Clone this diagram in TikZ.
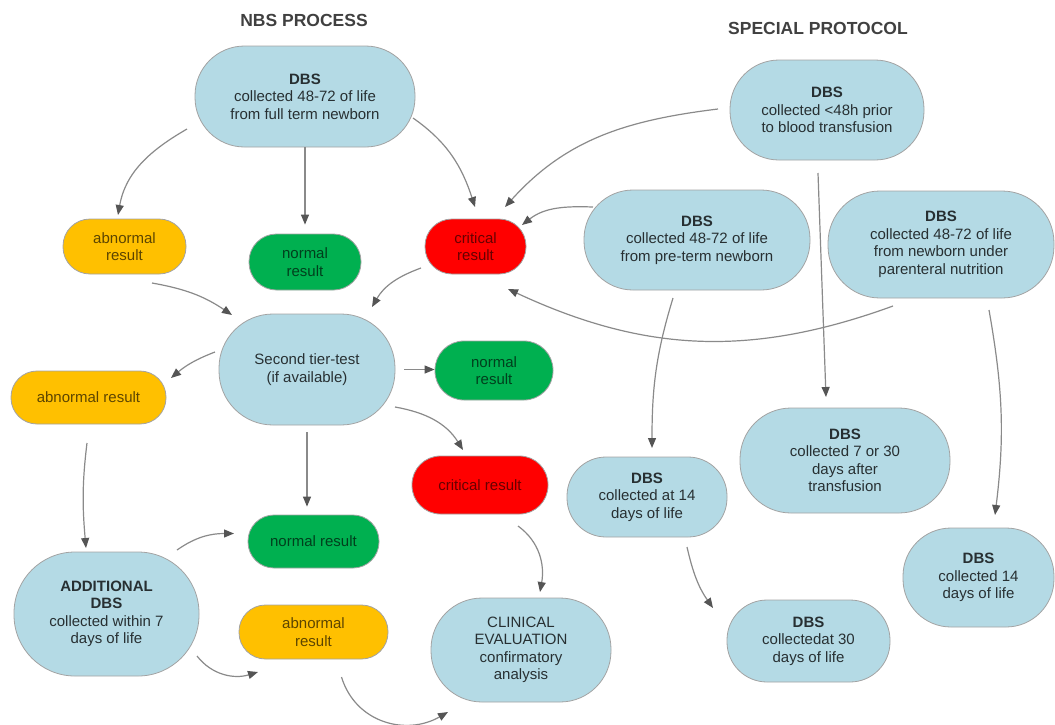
\documentclass[tikz,border=0pt]{standalone}
\usepackage{fontspec}
\setmainfont{Liberation Sans}
\usetikzlibrary{arrows.meta,calc}
\definecolor{dbsblue}{HTML}{B4DAE5}
\definecolor{resorange}{HTML}{FFC000}
\definecolor{resgreen}{HTML}{00B050}
\definecolor{resred}{HTML}{FF0000}
\definecolor{boxline}{HTML}{A3A3A3}
\definecolor{linegray}{HTML}{8A8A8A}
\definecolor{tipgray}{HTML}{555555}
\definecolor{titlegray}{HTML}{404040}
\begin{document}
\begin{tikzpicture}[x=1pt,y=1pt,
  pill/.style args={#1/#2/#3}{minimum width=#1pt,minimum height=#2pt,rounded corners=#3pt},
  basebox/.style={draw=boxline,line width=0.8pt,align=center,inner sep=0pt,
    font=\fontsize{15}{17.5}\selectfont},
  bluebox/.style={basebox,fill=dbsblue,text=black,text opacity=0.78},
  orangebox/.style={basebox,fill=resorange,text=black,text opacity=0.64},
  greenbox/.style={basebox,fill=resgreen,text=black,text opacity=0.64},
  redbox/.style={basebox,fill=resred,text=black,text opacity=0.6},
  titletext/.style={text=titlegray,font=\fontsize{17.5}{20}\selectfont\bfseries},
  arr/.style={draw=linegray,line width=1.2pt,
    -{Triangle[length=10pt,width=8pt,color=tipgray]}}
]
\useasboundingbox (0,0) rectangle (1055,-724);

% titles
\node[titletext] (t1) at (304,-20) {NBS PROCESS};
\node[titletext] (t2) at (818,-28.5) {SPECIAL PROTOCOL};

% NBS process
\node[bluebox,pill=220/101/49.5] (dbs1) at (305,-96.5) {\textbf{DBS}\\collected 48-72 of life\\from full term newborn};
\node[orangebox,pill=123/55/27] (abn1) at (124.5,-246.5) {abnormal\\result};
\node[greenbox,pill=112/56/27.5] (nor1) at (305,-262) {normal\\result};
\node[redbox,pill=101/55/27] (crit1) at (475.5,-246.5) {critical\\result};
\node[bluebox,pill=176/111/54] (tier) at (307,-369.5) {Second tier-test\\(if available)};
\node[orangebox,pill=155/53/26] (abn2) at (88.5,-397.5) {abnormal result};
\node[greenbox,pill=118/59/29] (nor2) at (494,-370.5) {normal\\result};
\node[redbox,pill=136/58/28.5] (crit2) at (480,-485) {critical result};
\node[greenbox,pill=131/53/26] (nor3) at (313.5,-541.5) {normal result};
\node[bluebox,pill=185/124/61] (add) at (106.5,-614) {\textbf{ADDITIONAL}\\\textbf{DBS}\\collected within 7\\days of life};
\node[orangebox,pill=149/54/26.5] (abn3) at (313.5,-632) {abnormal\\result};
\node[bluebox,pill=180/104/51] (clin) at (521,-650) {CLINICAL\\EVALUATION\\confirmatory\\analysis};

% special protocol
\node[bluebox,pill=194/100/49] (s48) at (827,-110) {\textbf{DBS}\\collected <48h prior\\to blood transfusion};
\node[bluebox,pill=226/100/49] (pre) at (697,-240) {\textbf{DBS}\\collected 48-72 of life\\from pre-term newborn};
\node[bluebox,pill=226/107/52] (par) at (941,-244.5) {\textbf{DBS}\\collected 48-72 of life\\from newborn under\\parenteral nutrition};
\node[bluebox,pill=160/80/39] (d14) at (647,-497) {\textbf{DBS}\\collected at 14\\days of life};
\node[bluebox,pill=210/105/51] (d730) at (845,-460.5) {\textbf{DBS}\\collected 7 or 30\\days after\\transfusion};
\node[bluebox,pill=163/82/40] (c30) at (808.5,-641) {\textbf{DBS}\\collectedat 30\\days of life};
\node[bluebox,pill=151/99/48] (r14) at (978.5,-577.5) {\textbf{DBS}\\collected 14\\days of life};

% connectors
\draw[arr] ($(dbs1)+(-118,-32.5)$) to[out=210,in=80] ($(abn1)+(-6.5,31.5)$);
\draw[arr,shorten >=9pt] (dbs1.south) -- (nor1.north);
\draw[arr] ($(dbs1)+(108,-21.5)$) to[out=-35,in=108] ($(crit1)+(-0.5,39.5)$);
\draw[arr] ($(s48)+(-109,1)$) to[out=187,in=48] ($(crit1)+(29.5,39.5)$);
\draw[arr] ($(pre)+(-104,33)$) to[out=178,in=38] ($(crit1)+(46.5,21.5)$);
\draw[arr] ($(par)+(-48,-61.5)$) to[out=200,in=-25] ($(crit1)+(32.5,-42.5)$);
\draw[arr] ($(crit1)+(-54.5,-21.5)$) to[out=200,in=60] ($(tier)+(65,62.5)$);
\draw[arr] ($(abn1)+(27.5,-36.5)$) to[out=-10,in=146] ($(tier)+(-75,54.5)$);
\draw[arr] ($(tier)+(-92,17.5)$) to[out=201,in=40] ($(abn2)+(82.5,19.5)$);
\draw[arr,shorten <=9pt] (tier.east) -- (tier.east -| nor2.west);
\draw[arr] ($(tier)+(88,-37.5)$) to[out=-10,in=122] ($(crit2)+(-17,35)$);
\draw[arr,shorten <=7pt,shorten >=8pt] (tier.south) -- (tier.south |- nor3.north);
\draw[arr] ($(abn2)+(-1.5,-45.5)$) to[out=263,in=95] ($(add)+(-20.5,66)$);
\draw[arr] ($(add)+(70.5,64)$) to[out=35,in=180] ($(nor3)+(-79.5,8)$);
\draw[arr] ($(add)+(90.5,-42)$) to[out=-52,in=197] ($(abn3)+(-55.5,-40)$);
\draw[arr] ($(abn3)+(28,-45)$) to[out=-73,in=210,looseness=1.1] ($(clin)+(-73,-62)$);
\draw[arr] ($(crit2)+(38,-41)$) to[out=-36,in=80] ($(clin)+(19,58)$);
\draw[arr] ($(s48)+(-9,-63)$) -- ($(d730)+(-19,63.5)$);
\draw[arr] ($(par)+(48,-65.5)$) to[out=-80,in=83] ($(r14)+(16.5,62.5)$);
\draw[arr] ($(pre)+(-24,-58)$) to[out=253,in=90] ($(d14)+(5,49)$);
\draw[arr] ($(d14)+(40,-50)$) to[out=-77,in=125] ($(c30)+(-95.5,33)$);
\end{tikzpicture}
\end{document}
